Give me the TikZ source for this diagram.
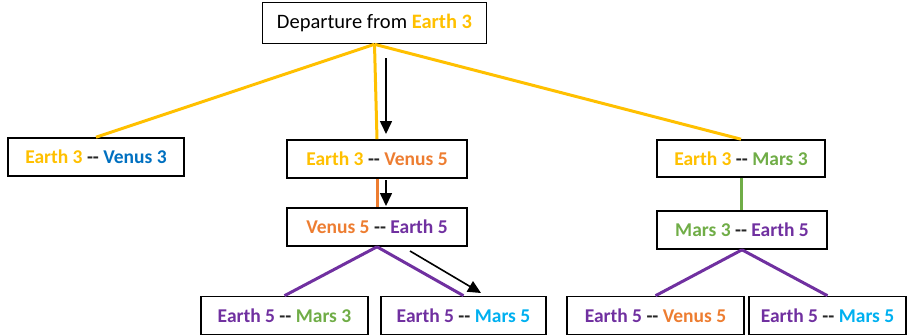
\documentclass[tikz,border=0pt]{standalone}
\usepackage{tikz}
\usetikzlibrary{arrows.meta,calc}
\usepackage{xcolor}
\usepackage{fontspec}
\setmainfont{Carlito}
\definecolor{earthc}{HTML}{FFC000}
\definecolor{venusc}{HTML}{0070C0}
\definecolor{venusfc}{HTML}{ED7D31}
\definecolor{marsc}{HTML}{70AD47}
\definecolor{earthfc}{HTML}{7030A0}
\definecolor{marsfc}{HTML}{00B0F0}
\newcommand{\pairsep}{ \textcolor{black!85}{-{}-} }

\begin{document}
\begin{tikzpicture}[
  x=1pt, y=-1pt,
  box/.style={draw, line width=1.6pt, minimum height=38pt, inner sep=2pt,
    font=\fontsize{19.5}{22}\selectfont\bfseries, align=center},
  branch/.style={line width=3pt},
  arrow/.style={-{Triangle[length=13pt,width=12pt]}, line width=1.6pt}
]
  \useasboundingbox (0,0) rectangle (907,335);

  % --- Root ---
  \node[box, font=\fontsize{20.5}{23}\selectfont, minimum width=224pt, minimum height=41pt]
    (root) at (374.5,23) {Departure from \textbf{\textcolor{earthc}{Earth 3}}};

  % --- First legs ---
  \node[box, minimum width=176pt] (ev3) at (96,157)
    {\textcolor{earthc}{Earth 3}\pairsep\textcolor{venusc}{Venus 3}};
  \node[box, minimum width=180pt] (ev5) at (377,159)
    {\textcolor{earthc}{Earth 3}\pairsep\textcolor{venusfc}{Venus 5}};
  \node[box, minimum width=168pt, minimum height=37pt] (em3) at (741,158.5)
    {\textcolor{earthc}{Earth 3}\pairsep\textcolor{marsc}{Mars 3}};

  % --- Second legs ---
  \node[box, minimum width=180pt] (ve5) at (377,227)
    {\textcolor{venusfc}{Venus 5}\pairsep\textcolor{earthfc}{Earth 5}};
  \node[box, minimum width=170pt] (me5) at (742,230)
    {\textcolor{marsc}{Mars 3}\pairsep\textcolor{earthfc}{Earth 5}};

  % --- Third legs ---
  \node[box, minimum width=167pt] (em3b) at (284.5,315.5)
    {\textcolor{earthfc}{Earth 5}\pairsep\textcolor{marsc}{Mars 3}};
  \node[box, minimum width=165pt] (em5a) at (463.5,315.5)
    {\textcolor{earthfc}{Earth 5}\pairsep\textcolor{marsfc}{Mars 5}};
  \node[box, minimum width=177pt] (ev5b) at (655.5,315.5)
    {\textcolor{earthfc}{Earth 5}\pairsep\textcolor{venusfc}{Venus 5}};
  \node[box, minimum width=157pt] (em5b) at (827.5,315.5)
    {\textcolor{earthfc}{Earth 5}\pairsep\textcolor{marsfc}{Mars 5}};

  % --- Branches ---
  \draw[branch, earthc] (root.south) -- (ev3.north);
  \draw[branch, earthc] (root.south) -- (ev5.north);
  \draw[branch, earthc] (root.south) -- (em3.north);
  \draw[branch, venusfc] (ev5.south) -- (ve5.north);
  \draw[branch, marsc] (em3.south) -- (em3.south |- me5.north);
  \draw[branch, earthfc] (ve5.south) -- (em3b.north);
  \draw[branch, earthfc] (ve5.south) -- (em5a.north);
  \draw[branch, earthfc] (me5.south) -- (ev5b.north);
  \draw[branch, earthfc] (me5.south) -- (em5b.north);

  % --- Route arrows ---
  \coordinate (a1s) at (386,58);
  \coordinate (a1e) at (386,134);
  \coordinate (a2s) at (386,180);
  \coordinate (a2e) at (386,206);
  \coordinate (a3s) at (410,251);
  \coordinate (a3e) at (481,293);
  \draw[arrow] (a1s) -- (a1e);
  \draw[arrow] (a2s) -- (a2e);
  \draw[arrow] (a3s) -- (a3e);
\end{tikzpicture}
\end{document}
